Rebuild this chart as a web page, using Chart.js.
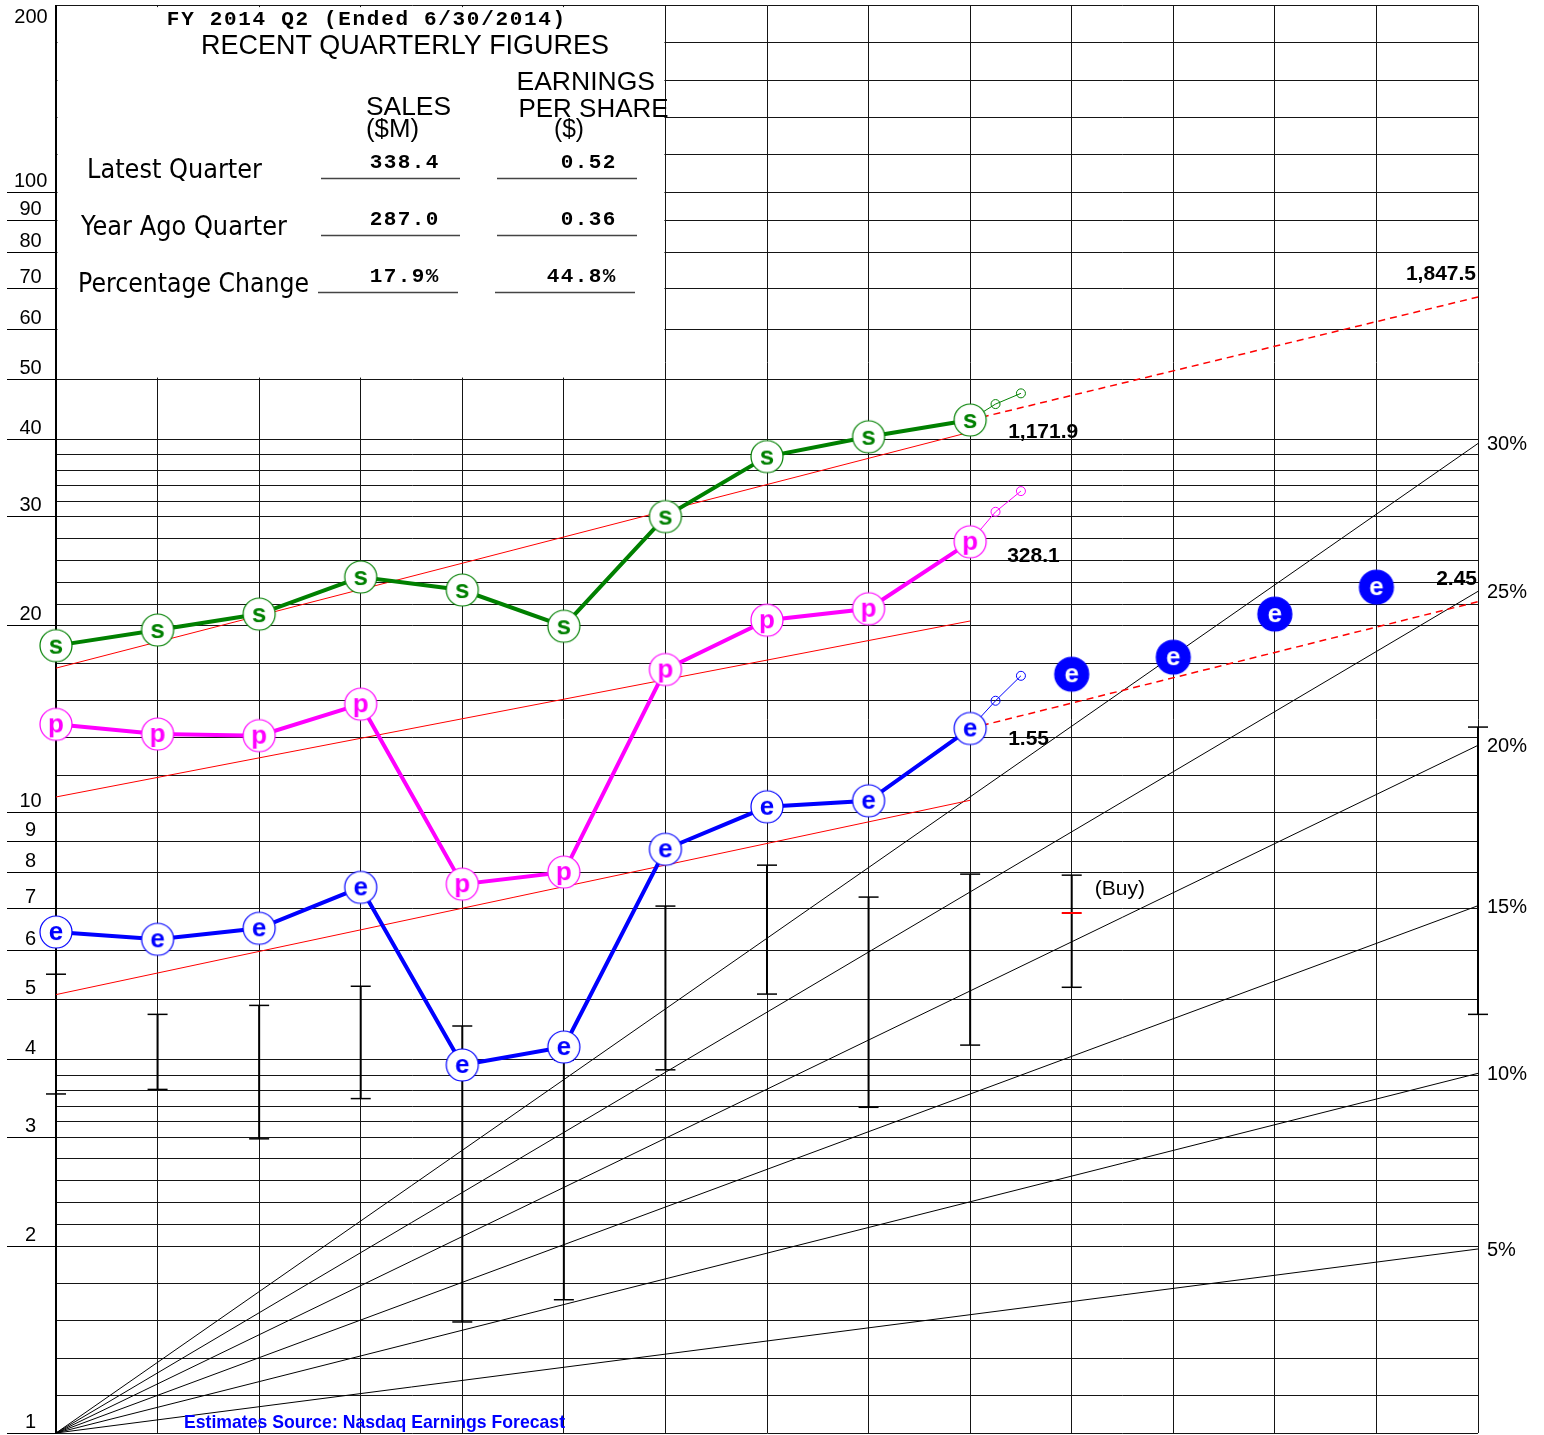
<!DOCTYPE html>
<html>
<head>
<meta charset="utf-8">
<script src="https://cdn.jsdelivr.net/npm/chart.js@4.4.1/dist/chart.umd.min.js"></script>
<style>
html,body{margin:0;padding:0;background:#fff;}
canvas{display:block;}
</style>
</head>
<body>
<canvas id="c" width="1544" height="1435"></canvas>
<script>
// ---------------- DATA ----------------
const QUARTERS = [0, 1, 2, 3, 4, 5, 6, 7, 8, 9];
const SALES  = [18.59, 19.70, 20.90, 23.98, 22.85, 19.98, 30.01, 37.50, 40.36, 42.95];
const PRETAX = [13.88, 13.39, 13.31, 14.96, 7.67, 8.02, 17.01, 20.43, 21.32, 27.33];
const EPS    = [6.42, 6.25, 6.51, 7.58, 3.92, 4.19, 8.73, 10.22, 10.45, 13.67];

const EST_QUARTERS = [10, 11, 12, 13];
const EPS_EST = [16.72, 17.81, 20.90, 23.10];

const NEXT_X = [9.25, 9.5];
const SALES_NEXT  = [45.57, 47.42];
const PRETAX_NEXT = [30.55, 32.99];
const EPS_NEXT    = [15.15, 16.62];

const TREND_X = [0, 9];
const SALES_TREND  = [17.1, 41.07];
const PRETAX_TREND = [10.60, 20.37];
const EPS_TREND    = [5.09, 10.47];

const PROJ_X = [9, 14];
const SALES_PROJ = [42.95, 67.8];
const EPS_PROJ   = [13.67, 21.88];

const PRICE_X    = [0, 1, 2, 3, 4, 5, 6, 7, 8, 9, 10, 14];
const PRICE_HIGH = [5.49, 4.73, 4.89, 5.25, 4.53, 3.99, 7.07, 8.23, 7.31, 7.96, 7.93, 13.74];
const PRICE_LOW  = [3.52, 3.58, 2.98, 3.46, 1.51, 1.64, 3.85, 5.10, 3.35, 4.22, 5.23, 4.73];
const BUY_X = 10;
const BUY_VALUE = 6.89;
const BUY_LABEL = '(Buy)';

const GROWTH_X = [0, 14];
const GROWTH_LABELS = ['5%', '10%', '15%', '20%', '25%', '30%'];
const GROWTH_END = [1.98, 3.80, 7.08, 12.84, 22.74, 39.37];

const Y_LABELS = [1, 2, 3, 4, 5, 6, 7, 8, 9, 10, 20, 30, 40, 50, 60, 70, 80, 90, 100, 200];
const Y_MINOR_BANDS = [[1, 2], [2, 3], [3, 4], [10, 20], [20, 30], [30, 40], [100, 200]];
const Y_MINOR_PARTS = 5;
const X_GRID = [0, 1, 2, 3, 4, 5, 6, 7, 8, 9, 10, 11, 12, 13, 14];
const TABLE_SPAN_X = [0, 6];
const TABLE_SPAN_Y = [200, 50];

const SALES_TTM = '1,171.9';
const PRETAX_TTM = '328.1';
const EPS_TTM = '1.55';
const SALES_PROJ_LABEL = '1,847.5';
const EPS_PROJ_LABEL = '2.45';

const TITLE_LINE = 'FY 2014 Q2 (Ended 6/30/2014)';
const TABLE_TITLE = 'RECENT QUARTERLY FIGURES';
const TABLE_ROWS = ['Latest Quarter', 'Year Ago Quarter', 'Percentage Change'];
const TABLE_SALES = ['338.4', '287.0', '17.9%'];
const TABLE_EPS = ['0.52', '0.36', '44.8%'];
const SOURCE_TEXT = 'Estimates Source: Nasdaq Earnings Forecast';

// ---------------- HELPERS ----------------
const GREEN = '#008000', MAGENTA = '#ff00ff', BLUE = '#0000ff', RED = '#ff0000';
const pts = (xs, ys) => xs.map((x, i) => ({x: x, y: ys[i]}));

function buildYTicks() {
  const vals = new Set(Y_LABELS);
  Y_MINOR_BANDS.forEach(([a, b]) => {
    const la = Math.log10(a), lb = Math.log10(b);
    for (let k = 1; k < Y_MINOR_PARTS; k++) vals.add(Math.pow(10, la + (lb - la) * k / Y_MINOR_PARTS));
  });
  return [...vals].sort((p, q) => p - q);
}
const Y_TICKS = buildYTicks();

function makeMarker(letter, color, filled, r) {
  const size = 2 * Math.ceil(r + 2);
  const c = document.createElement('canvas');
  c.width = size; c.height = size;
  const g = c.getContext('2d');
  const cx = size / 2, cy = size / 2;
  g.beginPath();
  g.arc(cx, cy, r, 0, Math.PI * 2);
  g.fillStyle = filled ? color : '#ffffff';
  g.fill();
  g.lineWidth = 1.2;
  g.strokeStyle = color;
  g.stroke();
  g.fillStyle = filled ? '#ffffff' : color;
  g.font = 'bold 26px "Liberation Sans", Arial, sans-serif';
  g.textAlign = 'center';
  g.textBaseline = 'alphabetic';
  g.fillText(letter, cx, cy + 7.5);
  return c;
}

function fitText(ctx, text, left, baseline, width, font, color) {
  ctx.save();
  ctx.font = font;
  ctx.fillStyle = color || '#000';
  ctx.textAlign = 'left';
  ctx.textBaseline = 'alphabetic';
  const w = ctx.measureText(text).width;
  ctx.translate(left, baseline);
  ctx.scale(width / w, 1);
  ctx.fillText(text, 0, 0);
  ctx.restore();
}

function monoText(ctx, text, left, baseline, adv) {
  ctx.save();
  ctx.font = 'bold 21px "Liberation Mono", "Courier New", monospace';
  ctx.fillStyle = '#000';
  ctx.textAlign = 'center';
  ctx.textBaseline = 'alphabetic';
  for (let i = 0; i < text.length; i++) ctx.fillText(text[i], left + adv * i + adv / 2, baseline);
  ctx.restore();
}

// ---------------- PLUGINS ----------------
const tableMask = {
  id: 'tableMask',
  beforeDatasetsDraw(chart) {
    const {ctx, scales: {x, y}} = chart;
    const x0 = x.getPixelForValue(TABLE_SPAN_X[0]);
    const x1 = x.getPixelForValue(TABLE_SPAN_X[1]);
    const y0 = y.getPixelForValue(TABLE_SPAN_Y[0]);
    const y1 = y.getPixelForValue(TABLE_SPAN_Y[1]);
    ctx.save();
    ctx.fillStyle = '#ffffff';
    ctx.fillRect(x0 + 1.5, y0 + 1.5, (x1 - x0) - 2.5, (y1 - y0) - 3);
    ctx.restore();
  }
};

const texts = {
  id: 'texts',
  afterDraw(chart) {
    const {ctx, chartArea, scales: {x, y}} = chart;
    // Table
    monoText(ctx, TITLE_LINE, 166, 25, 400 / TITLE_LINE.length);
    const SANS = '"Liberation Sans", Arial, sans-serif';
    fitText(ctx, TABLE_TITLE, 201, 53.5, 408, '28px ' + SANS);
    fitText(ctx, 'EARNINGS', 516.5, 90, 138.5, '26px ' + SANS);
    fitText(ctx, 'SALES', 366, 115, 85, '26px ' + SANS);
    fitText(ctx, 'PER SHARE', 518.5, 117, 150, '26px ' + SANS);
    fitText(ctx, '($M)', 366, 137, 53, '26px ' + SANS);
    fitText(ctx, '($)', 554, 137, 30, '26px ' + SANS);
    const HUM = '26px "DejaVu Sans", Verdana, sans-serif';
    const rowBase = [178, 235, 292];
    const rowLeft = [87, 81, 78];
    const rowW = [175, 206, 231];
    TABLE_ROWS.forEach((t, i) => fitText(ctx, t, rowLeft[i], rowBase[i], rowW[i], HUM));
    const adv = 14.0;
    TABLE_SALES.forEach((t, i) => monoText(ctx, t, 439 - adv * t.length, rowBase[i] - 10, adv));
    TABLE_EPS.forEach((t, i) => monoText(ctx, t, 616 - adv * t.length, rowBase[i] - 10, adv));
    ctx.save();
    ctx.strokeStyle = '#444';
    ctx.lineWidth = 1.5;
    const ul = [[[321, 460], [497, 637]], [[321, 460], [497, 637]], [[318, 458], [495, 635]]];
    ul.forEach((row, i) => row.forEach(([a, b]) => {
      ctx.beginPath(); ctx.moveTo(a, rowBase[i] + 0.5); ctx.lineTo(b, rowBase[i] + 0.5); ctx.stroke();
    }));
    ctx.restore();

    // "200" label under top line
    ctx.save();
    ctx.font = '20px ' + SANS;
    ctx.fillStyle = '#000';
    ctx.textAlign = 'center';
    ctx.textBaseline = 'middle';
    ctx.fillText('200', 31, y.getPixelForValue(200) + 12);
    ctx.restore();

    // Growth-rate labels
    ctx.save();
    ctx.font = '20px ' + SANS;
    ctx.fillStyle = '#000';
    ctx.textAlign = 'left';
    ctx.textBaseline = 'alphabetic';
    GROWTH_LABELS.forEach((lab, i) => {
      const px = x.getPixelForValue(GROWTH_X[1]);
      const py = y.getPixelForValue(GROWTH_END[i]);
      ctx.fillText(lab, px + 9, py + 7);
    });
    // Buy label
    ctx.font = '21px ' + SANS;
    const hiAt = PRICE_HIGH[PRICE_X.indexOf(BUY_X)];
    ctx.fillText(BUY_LABEL, x.getPixelForValue(BUY_X) + 23, y.getPixelForValue(hiAt) + 20);
    // value annotations
    ctx.font = 'bold 21px ' + SANS;
    const last = QUARTERS.length - 1;
    ctx.fillText(SALES_TTM, x.getPixelForValue(QUARTERS[last]) + 38, y.getPixelForValue(SALES[last]) + 18);
    ctx.fillText(PRETAX_TTM, x.getPixelForValue(QUARTERS[last]) + 37, y.getPixelForValue(PRETAX[last]) + 20);
    ctx.fillText(EPS_TTM, x.getPixelForValue(QUARTERS[last]) + 38, y.getPixelForValue(EPS[last]) + 17);
    ctx.textAlign = 'right';
    ctx.fillText(SALES_PROJ_LABEL, chartArea.right - 2, y.getPixelForValue(SALES_PROJ[1]) - 17);
    ctx.fillText(EPS_PROJ_LABEL, chartArea.right - 1, y.getPixelForValue(EPS_PROJ[1]) - 17);
    ctx.restore();

    // source
    fitText(ctx, SOURCE_TEXT, 184, 1428, 381, 'bold 19px ' + SANS, BLUE);
  }
};

// ---------------- CHART ----------------
function build() {
  const mS = makeMarker('s', GREEN, false, 16);
  const mP = makeMarker('p', MAGENTA, false, 16);
  const mE = makeMarker('e', BLUE, false, 16);
  const mEst = makeMarker('e', BLUE, true, 17);

  const priceData = [];
  PRICE_X.forEach((q, i) => {
    priceData.push({x: q, y: PRICE_LOW[i]}, {x: q, y: PRICE_HIGH[i]}, {x: q, y: null});
  });

  const base = {fill: false, tension: 0, clip: false, pointHoverRadius: 0};
  const datasets = [];

  GROWTH_END.forEach((end, i) => {
    datasets.push(Object.assign({}, base, {
      label: 'growth ' + GROWTH_LABELS[i], data: pts(GROWTH_X, [1, end]),
      borderColor: '#000', borderWidth: 1, pointRadius: 0, order: 20
    }));
  });
  datasets.push(Object.assign({}, base, {
    label: 'price range', data: priceData, borderColor: '#000', borderWidth: 2,
    pointStyle: 'line', pointRadius: 10, pointBorderWidth: 1.5, pointBorderColor: '#000', order: 15
  }));
  datasets.push(Object.assign({}, base, {
    label: 'buy', data: [{x: BUY_X, y: BUY_VALUE}], showLine: false,
    pointStyle: 'line', pointRadius: 10, pointBorderWidth: 2, pointBorderColor: RED, order: 14
  }));
  [[SALES_TREND], [PRETAX_TREND], [EPS_TREND]].forEach(([t], i) => {
    datasets.push(Object.assign({}, base, {
      label: 'trend ' + i, data: pts(TREND_X, t), borderColor: RED, borderWidth: 1, pointRadius: 0, order: 12
    }));
  });
  [SALES_PROJ, EPS_PROJ].forEach((t, i) => {
    datasets.push(Object.assign({}, base, {
      label: 'proj ' + i, data: pts(PROJ_X, t), borderColor: RED, borderWidth: 1.5,
      borderDash: [7, 5], pointRadius: 0, order: 12
    }));
  });
  [[SALES, SALES_NEXT, GREEN], [PRETAX, PRETAX_NEXT, MAGENTA], [EPS, EPS_NEXT, BLUE]].forEach(([act, nx, col], i) => {
    const last = act.length - 1;
    datasets.push(Object.assign({}, base, {
      label: 'next ' + i,
      data: [{x: QUARTERS[last], y: act[last]}].concat(pts(NEXT_X, nx)),
      borderColor: col, borderWidth: 1, pointRadius: [0, 4.5, 4.5],
      pointBackgroundColor: 'rgba(0,0,0,0)', pointBorderColor: col, pointBorderWidth: 1, order: 11
    }));
  });
  datasets.push(Object.assign({}, base, {
    label: 'Pretax', data: pts(QUARTERS, PRETAX), borderColor: MAGENTA, borderWidth: 4,
    pointStyle: mP, pointRadius: 16, order: 3
  }));
  datasets.push(Object.assign({}, base, {
    label: 'EPS', data: pts(QUARTERS, EPS), borderColor: BLUE, borderWidth: 4,
    pointStyle: mE, pointRadius: 16, order: 2
  }));
  datasets.push(Object.assign({}, base, {
    label: 'Sales', data: pts(QUARTERS, SALES), borderColor: GREEN, borderWidth: 4,
    pointStyle: mS, pointRadius: 16, order: 1
  }));
  datasets.push(Object.assign({}, base, {
    label: 'EPS estimates', data: pts(EST_QUARTERS, EPS_EST), showLine: false,
    pointStyle: mEst, pointRadius: 17, order: 0
  }));

  new Chart(document.getElementById('c'), {
    type: 'line',
    data: {datasets: datasets},
    options: {
      responsive: false,
      animation: false,
      devicePixelRatio: 1,
      events: [],
      layout: {autoPadding: false, padding: {top: 5.6, right: 66, bottom: 2, left: 0}},
      plugins: {legend: {display: false}, tooltip: {enabled: false}},
      scales: {
        x: {
          type: 'linear', min: 0, max: 14,
          afterBuildTicks: s => { s.ticks = X_GRID.map(v => ({value: v})); },
          afterFit: s => { s.height = 0; s.paddingLeft = 0; s.paddingRight = 0; },
          ticks: {display: false},
          grid: {color: '#151515', lineWidth: 1, drawTicks: false},
          border: {display: false}
        },
        y: {
          type: 'logarithmic', min: 1, max: 200,
          afterBuildTicks: s => { s.ticks = Y_TICKS.map(v => ({value: v})); },
          afterFit: s => { s.width = 56; s.paddingTop = 0; s.paddingBottom = 0; },
          ticks: {
            autoSkip: false,
            callback: v => (Y_LABELS.includes(v) && v !== 200) ? String(v) : '',
            font: {family: '"Liberation Sans", Arial, sans-serif', size: 20},
            color: '#000',
            crossAlign: 'center',
            padding: -40.3,
            labelOffset: -11
          },
          grid: {
            color: '#151515', lineWidth: 1, drawTicks: true, tickLength: 49, tickWidth: 1,
            tickColor: c => (c.tick && Y_LABELS.includes(c.tick.value) && c.tick.value !== 200) ? '#000' : 'rgba(0,0,0,0)'
          },
          border: {display: true, color: '#000', width: 2}
        }
      }
    },
    plugins: [tableMask, texts]
  });
}

const fontsToLoad = [
  '20px "Liberation Sans"', 'bold 26px "Liberation Sans"', 'bold 21px "Liberation Mono"', '26px "DejaVu Sans"'
];
let built = false;
function go() { if (!built) { built = true; build(); } }
if (document.fonts && document.fonts.load) {
  Promise.all(fontsToLoad.map(f => document.fonts.load(f))).then(go, go);
  setTimeout(go, 300);
} else { go(); }
</script>
</body>
</html>
